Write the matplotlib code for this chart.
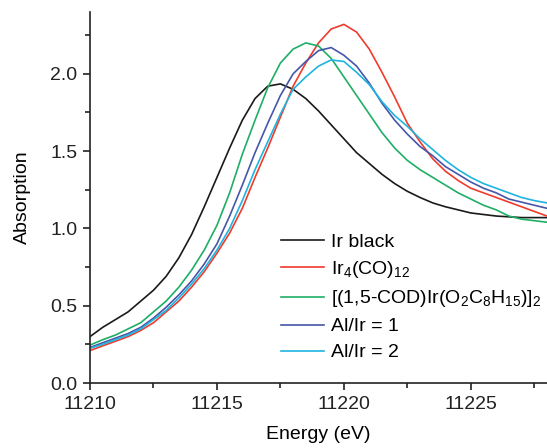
import matplotlib
matplotlib.use("Agg")
import matplotlib.pyplot as plt
import numpy as np

# Energy grid (eV) and absorption
energy = np.arange(11210, 11228.01, 0.5)

ir_black = [0.30, 0.36, 0.41, 0.46, 0.53, 0.60, 0.69, 0.81, 0.96, 1.14,
            1.33, 1.52, 1.70, 1.84, 1.92, 1.935, 1.90, 1.84, 1.76, 1.67,
            1.58, 1.49, 1.42, 1.35, 1.29, 1.24, 1.20, 1.165, 1.14, 1.12,
            1.10, 1.09, 1.08, 1.075, 1.07, 1.07, 1.07]

ir4co12 = [0.21, 0.24, 0.27, 0.30, 0.34, 0.39, 0.46, 0.53, 0.62, 0.72,
           0.84, 0.97, 1.13, 1.33, 1.52, 1.72, 1.92, 2.07, 2.20, 2.29,
           2.32, 2.27, 2.16, 2.01, 1.85, 1.68, 1.56, 1.45, 1.37, 1.31,
           1.26, 1.23, 1.20, 1.17, 1.14, 1.11, 1.08]

cod_dimer = [0.245, 0.28, 0.31, 0.35, 0.39, 0.46, 0.53, 0.62, 0.73, 0.86,
             1.02, 1.23, 1.48, 1.70, 1.91, 2.07, 2.16, 2.20, 2.18, 2.10,
             1.98, 1.86, 1.74, 1.62, 1.52, 1.44, 1.38, 1.33, 1.28, 1.23,
             1.19, 1.15, 1.12, 1.08, 1.06, 1.05, 1.04]

al_ir_1 = [0.23, 0.26, 0.29, 0.32, 0.36, 0.42, 0.49, 0.57, 0.66, 0.77,
           0.90, 1.08, 1.28, 1.49, 1.68, 1.86, 2.00, 2.08, 2.15, 2.17,
           2.12, 2.05, 1.94, 1.81, 1.70, 1.61, 1.53, 1.47, 1.40, 1.35,
           1.30, 1.26, 1.23, 1.19, 1.17, 1.15, 1.13]

al_ir_2 = [0.225, 0.25, 0.28, 0.31, 0.35, 0.41, 0.47, 0.55, 0.64, 0.74,
           0.86, 1.00, 1.18, 1.38, 1.56, 1.74, 1.90, 1.98, 2.05, 2.09,
           2.08, 2.01, 1.93, 1.82, 1.73, 1.66, 1.58, 1.51, 1.44, 1.38,
           1.33, 1.29, 1.26, 1.23, 1.20, 1.18, 1.165]

labels = ["Ir black",
          r"Ir$_4$(CO)$_{12}$",
          r"[(1,5-COD)Ir(O$_2$C$_8$H$_{15}$)]$_2$",
          "Al/Ir = 1",
          "Al/Ir = 2"]
colors = ["#1a1a1a", "#ef3b2c", "#1fae66", "#4656a8", "#1fb4df"]

plt.rcParams["font.family"] = ["Liberation Sans", "DejaVu Sans"]
plt.rcParams["mathtext.fontset"] = "custom"
plt.rcParams["mathtext.rm"] = "Liberation Sans"
plt.rcParams["mathtext.it"] = "Liberation Sans"
plt.rcParams["mathtext.default"] = "regular"

fig = plt.figure(figsize=(5.47, 4.48), dpi=100)
ax = fig.add_axes([90 / 547, 1 - 383 / 448, 1 - 90 / 547, (383 - 12) / 448])

for series, lab, col in zip([ir_black, ir4co12, cod_dimer, al_ir_1, al_ir_2], labels, colors):
    ax.plot(energy, series, color=col, lw=1.2, label=lab)

ax.set_xlim(11210, 11228)
ax.set_ylim(0, 2.4)
ax.set_xticks([11210, 11215, 11220, 11225])
ax.set_xticks(np.arange(11212.5, 11228, 5), minor=True)
ax.set_yticks([0.0, 0.5, 1.0, 1.5, 2.0])
ax.set_yticks([0.25, 0.75, 1.25, 1.75, 2.25], minor=True)
ax.set_yticklabels(["0.0", "0.5", "1.0", "1.5", "2.0"])

for side in ["top", "right"]:
    ax.spines[side].set_visible(False)
for side in ["left", "bottom"]:
    ax.spines[side].set_linewidth(1.2)
    ax.spines[side].set_color("#222222")

ax.tick_params(which="major", direction="out", length=5, width=1.2, labelsize=14,
               colors="#222222", pad=4)
ax.tick_params(which="minor", direction="out", length=3.5, width=1.2, colors="#222222")

ax.set_xlabel("Energy (eV)", fontsize=14, labelpad=10)
ax.set_ylabel("Absorption", fontsize=14, labelpad=14)

ax.legend(loc="upper left", bbox_to_anchor=(0.418, 0.404), frameon=False,
          fontsize=14, handlelength=2.2, handletextpad=0.35,
          labelspacing=0.43, borderpad=0, borderaxespad=0)

fig.savefig("out.png", dpi=100)
